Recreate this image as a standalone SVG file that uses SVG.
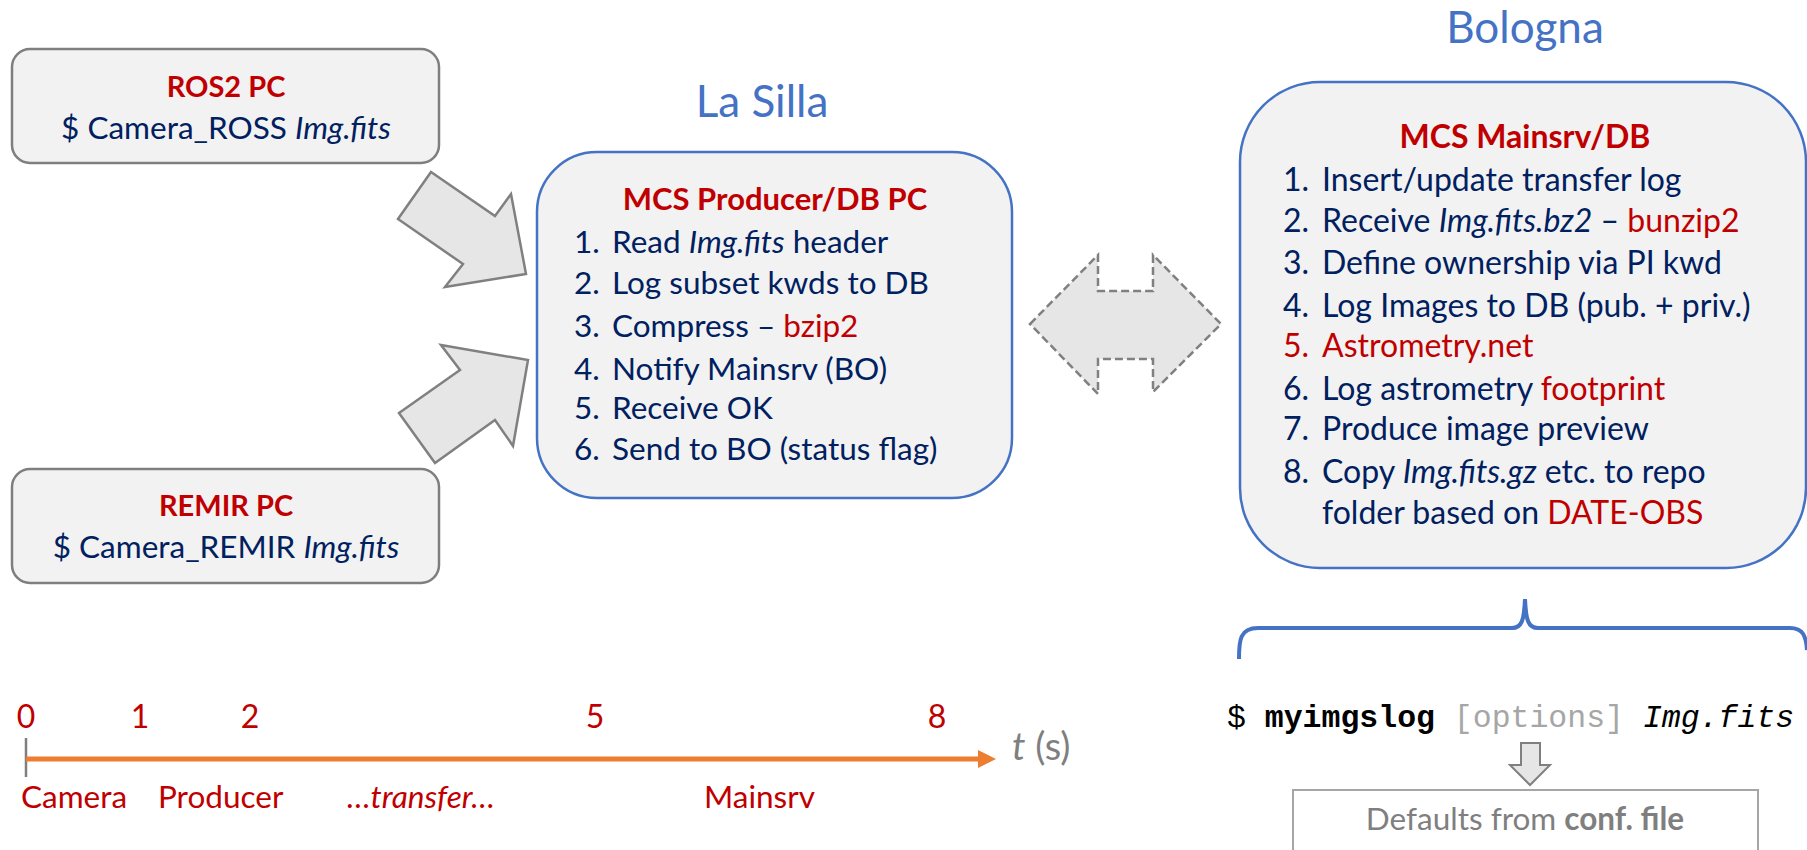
<svg xmlns="http://www.w3.org/2000/svg" width="1807" height="850" viewBox="0 0 1807 850">
<style>
.t{font-family:Lato,"Open Sans","Liberation Sans",sans-serif;}
.nv{fill:#002060;font-size:31.5px;}
.nb{fill:#002060;font-size:32px;}
.rd{fill:#c00000;}
.b{font-weight:bold;}
.i{font-style:italic;}
.site{fill:#4472c4;font-size:44px;}
.pc{fill:#f2f2f2;stroke:#7f7f7f;stroke-width:2.5;}
.srv{fill:#f2f2f2;stroke:#4472c4;stroke-width:2.5;}
.blk{fill:#e6e6e6;stroke:#808080;stroke-width:2.5;stroke-linejoin:miter;}
.mono{font-family:"Liberation Mono","DejaVu Sans Mono",monospace;font-size:31.5px;fill:#000;}
</style>
<rect width="1807" height="850" fill="#fff"/>

<g id="ros2">
<rect class="pc" x="12" y="49" width="427" height="114" rx="18"/>
<text class="t rd b" x="226" y="97" font-size="29" text-anchor="middle">ROS2 PC</text>
<text class="t nv" x="226" y="139" text-anchor="middle">$ Camera_ROSS <tspan class="i">Img.fits</tspan></text>
</g>

<g id="remir">
<rect class="pc" x="12" y="469" width="427" height="114" rx="18"/>
<text class="t rd b" x="226" y="516" font-size="29" text-anchor="middle">REMIR PC</text>
<text class="t nv" x="226" y="558" text-anchor="middle">$ Camera_REMIR <tspan class="i">Img.fits</tspan></text>
</g>

<g id="lasilla">
<text class="t site" x="762" y="117" text-anchor="middle">La Silla</text>
<rect class="srv" x="537" y="152" width="475" height="346" rx="60"/>
<text class="t rd b" x="775" y="210" font-size="31" text-anchor="middle">MCS Producer/DB PC</text>
<g class="t nv">
<text x="574" y="253">1.</text><text x="612" y="253">Read <tspan class="i">Img.fits</tspan> header</text>
<text x="574" y="294">2.</text><text x="612" y="294">Log subset kwds to DB</text>
<text x="574" y="337">3.</text><text x="612" y="337">Compress – <tspan class="rd">bzip2</tspan></text>
<text x="574" y="380">4.</text><text x="612" y="380">Notify Mainsrv (BO)</text>
<text x="574" y="419">5.</text><text x="612" y="419">Receive OK</text>
<text x="574" y="460">6.</text><text x="612" y="460">Send to BO (status flag)</text>
</g>
</g>

<g id="bologna">
<text class="t site" x="1525" y="43" text-anchor="middle">Bologna</text>
<rect class="srv" x="1240" y="82" width="566" height="486" rx="80"/>
<text class="t rd b" x="1525" y="148" font-size="32" text-anchor="middle">MCS Mainsrv/DB</text>
<g class="t nb">
<text x="1283" y="191">1.</text><text x="1322" y="191">Insert/update transfer log</text>
<text x="1283" y="232">2.</text><text x="1322" y="232">Receive <tspan class="i">Img.fits.bz2</tspan> – <tspan class="rd">bunzip2</tspan></text>
<text x="1283" y="274">3.</text><text x="1322" y="274">Define ownership via PI kwd</text>
<text x="1283" y="317">4.</text><text x="1322" y="317">Log Images to DB (pub. + priv.)</text>
<text class="rd" x="1283" y="357">5.</text><text class="rd" x="1322" y="357">Astrometry.net</text>
<text x="1283" y="400">6.</text><text x="1322" y="400">Log astrometry <tspan class="rd">footprint</tspan></text>
<text x="1283" y="440">7.</text><text x="1322" y="440">Produce image preview</text>
<text x="1283" y="483">8.</text><text x="1322" y="483">Copy <tspan class="i">Img.fits.gz</tspan> etc. to repo</text>
<text x="1322" y="524">folder based on <tspan class="rd">DATE-OBS</tspan></text>
</g>
</g>

<g id="myimgslog">
<text class="mono" x="1227" y="727">$ <tspan font-weight="bold">myimgslog</tspan> <tspan fill="#a6a6a6">[options]</tspan> <tspan font-style="italic">Img.fits</tspan></text>
</g>

<g id="conf">
<rect x="1293" y="790" width="465" height="80" fill="#fff" stroke="#a6a6a6" stroke-width="2"/>
<text class="t" x="1525" y="830" font-size="31.5" fill="#7f7f7f" text-anchor="middle">Defaults from <tspan font-weight="bold">conf. file</tspan></text>
</g>

<g id="timeline">
<line x1="26" y1="738" x2="26" y2="777" stroke="#7f7f7f" stroke-width="2.5"/>
<line x1="26" y1="759" x2="982" y2="759" stroke="#ed7d31" stroke-width="5"/>
<polygon points="978,750 996,759 978,768" fill="#ed7d31"/>
<g class="t rd" font-size="32" text-anchor="middle">
<text x="26" y="728">0</text><text x="140" y="728">1</text><text x="250" y="728">2</text><text x="595" y="728">5</text><text x="937" y="728">8</text>
</g>
<text class="t" x="1012" y="760" font-size="38" fill="#7f7f7f"><tspan font-style="italic">t</tspan> (s)</text>
<g class="t rd" font-size="31.5">
<text x="21" y="808">Camera</text>
<text x="158" y="808">Producer</text>
<text x="347" y="808" font-style="italic">…transfer…</text>
<text x="704" y="808">Mainsrv</text>
</g>
</g>

<g id="connectors">
<polygon class="blk" points="431,172 495,216 511,194 526,274 445,287 463,264 398,219"/>
<polygon class="blk" points="441,345 528,360 513,446 495,420 435,463 399,413 460,370"/>
<polygon points="1030,324 1098,255 1098,291 1153,291 1153,255 1221,324 1153,392 1153,359 1098,359 1098,394" fill="#e6e6e6" stroke="#808080" stroke-width="2.5" stroke-dasharray="8,4"/>
<path d="M1239,659 C1239,640 1240,628 1258,628 L1512,628 C1522,628 1524,620 1525,599 C1526,620 1528,628 1538,628 L1790,628 C1803,628 1806,636 1807,650" fill="none" stroke="#4472c4" stroke-width="4"/>
<polygon points="1521,743 1540,743 1540,765 1550,765 1530,785 1510,765 1521,765" fill="#e6e6e6" stroke="#808080" stroke-width="2"/>
</g>
</svg>
